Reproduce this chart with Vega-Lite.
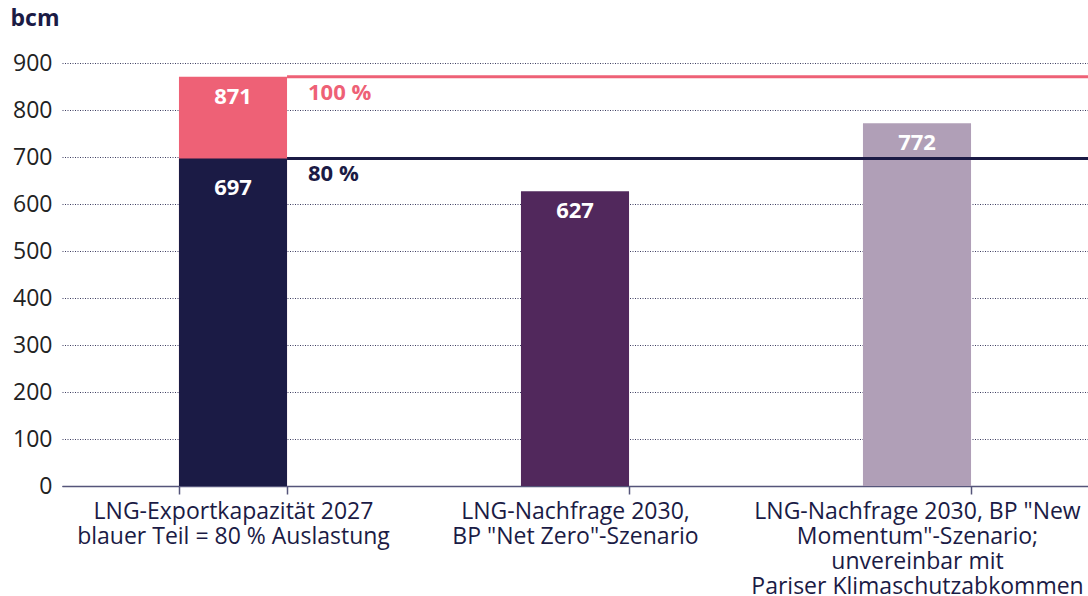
{
  "$schema": "https://vega.github.io/schema/vega-lite/v6.json",
  "width": 1026,
  "height": 423,
  "autosize": {"type": "none"},
  "padding": {"left": 62, "top": 63, "right": 0, "bottom": 110},
  "background": "white",
  "config": {
    "font": "Open Sans",
    "view": {"stroke": null}
  },
  "datasets": {
    "bars": [
      {"cat": "LNG-Exportkapazität 2027\nblauer Teil = 80 % Auslastung", "segment": "Kapazität 100 %", "value": 871},
      {"cat": "LNG-Exportkapazität 2027\nblauer Teil = 80 % Auslastung", "segment": "Kapazität 80 %", "value": 697},
      {"cat": "LNG-Nachfrage 2030,\nBP \"Net Zero\"-Szenario", "segment": "Net Zero", "value": 627},
      {"cat": "LNG-Nachfrage 2030, BP \"New\nMomentum\"-Szenario;\nunvereinbar mit\nPariser Klimaschutzabkommen", "segment": "New Momentum", "value": 772}
    ],
    "rules": [
      {"cat": "LNG-Exportkapazität 2027\nblauer Teil = 80 % Auslastung", "segment": "Kapazität 100 %", "level": 871, "label": "100 %"},
      {"cat": "LNG-Exportkapazität 2027\nblauer Teil = 80 % Auslastung", "segment": "Kapazität 80 %", "level": 697, "label": "80 %"}
    ]
  },
  "encoding": {
    "x": {
      "field": "cat",
      "type": "nominal",
      "scale": {
        "domain": [
          "LNG-Exportkapazität 2027\nblauer Teil = 80 % Auslastung",
          "LNG-Nachfrage 2030,\nBP \"Net Zero\"-Szenario",
          "LNG-Nachfrage 2030, BP \"New\nMomentum\"-Szenario;\nunvereinbar mit\nPariser Klimaschutzabkommen"
        ],
        "paddingInner": 0.684,
        "paddingOuter": 0.342
      },
      "axis": {
        "title": null,
        "labelAngle": 0,
        "labelExpr": "split(datum.label, '\\n')",
        "labelFontSize": 23,
        "labelColor": "#1b1b45",
        "labelLineHeight": 25,
        "labelPadding": 6,
        "labelLimit": 400,
        "tickBand": "extent",
        "tickSize": 8,
        "tickColor": "#55557a",
        "tickWidth": 1.5,
        "domainColor": "#55557a",
        "domainWidth": 1.5,
        "grid": false
      }
    },
    "color": {
      "field": "segment",
      "type": "nominal",
      "legend": null,
      "scale": {
        "domain": ["Kapazität 100 %", "Kapazität 80 %", "Net Zero", "New Momentum"],
        "range": ["#ee6176", "#1b1b45", "#51285c", "#b09fb7"]
      }
    }
  },
  "layer": [
    {
      "data": {"name": "bars"},
      "mark": {"type": "bar"},
      "encoding": {
        "y": {
          "field": "value",
          "type": "quantitative",
          "stack": null,
          "scale": {"domain": [0, 900], "nice": false},
          "axis": {
            "values": [0, 100, 200, 300, 400, 500, 600, 700, 800, 900],
            "title": "bcm",
            "titleAngle": 0,
            "titleAlign": "left",
            "titleBaseline": "middle",
            "titleX": -52,
            "titleY": -45,
            "titleFontSize": 23,
            "titleFontWeight": "bold",
            "titleColor": "#1b1b45",
            "labelFontSize": 23,
            "labelColor": "#222222",
            "labelPadding": 10,
            "domain": false,
            "ticks": false,
            "grid": true,
            "gridColor": "#1b1b45",
            "gridDash": [1, 1.5],
            "gridWidth": 1,
            "gridOpacity": 0.85
          }
        }
      }
    },
    {
      "data": {"name": "bars"},
      "transform": [{"filter": "datum.segment != 'Kapazität 80 %'"}],
      "mark": {"type": "text", "fontWeight": "bold", "fontSize": 22, "baseline": "middle", "dy": 20},
      "encoding": {
        "y": {"field": "value", "type": "quantitative"},
        "text": {"field": "value", "type": "quantitative"},
        "color": {"value": "white"}
      }
    },
    {
      "data": {"name": "bars"},
      "transform": [{"filter": "datum.segment == 'Kapazität 80 %'"}],
      "mark": {"type": "text", "fontWeight": "bold", "fontSize": 22, "baseline": "middle", "dy": 30},
      "encoding": {
        "y": {"field": "value", "type": "quantitative"},
        "text": {"field": "value", "type": "quantitative"},
        "color": {"value": "white"}
      }
    },
    {
      "data": {"name": "rules"},
      "mark": {"type": "rule", "strokeWidth": 3},
      "encoding": {
        "x": {"field": "cat", "type": "nominal", "bandPosition": 1},
        "x2": {"value": "width"},
        "y": {"field": "level", "type": "quantitative"}
      }
    },
    {
      "data": {"name": "rules"},
      "mark": {"type": "text", "align": "left", "baseline": "middle", "fontWeight": "bold", "fontSize": 22, "dx": 21, "dy": 16},
      "encoding": {
        "x": {"field": "cat", "type": "nominal", "bandPosition": 1},
        "y": {"field": "level", "type": "quantitative"},
        "text": {"field": "label", "type": "nominal"}
      }
    }
  ]
}
